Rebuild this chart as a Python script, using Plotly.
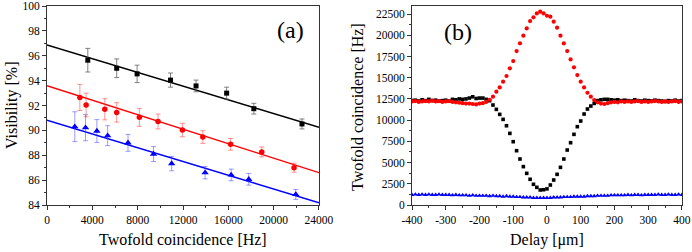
import plotly.graph_objects as go

# ---------------- Panel (a) data ----------------
black_x = [3600, 6150, 7950, 10900, 13150, 15850, 18250, 22500]
black_y = [95.65, 95.0, 94.55, 94.05, 93.58, 93.0, 91.75, 90.52]
black_err = [0.95, 0.75, 0.7, 0.57, 0.47, 0.48, 0.43, 0.4]

red_x = [2900, 3450, 5100, 6150, 8150, 9800, 11950, 13750, 16200, 18950, 21800]
red_y = [92.65, 92.05, 91.7, 91.45, 91.05, 90.72, 90.03, 89.47, 88.88, 88.27, 87.0]
red_err = [1.05, 0.95, 0.85, 0.78, 0.72, 0.6, 0.54, 0.51, 0.47, 0.4, 0.36]

blue_x = [2450, 3400, 4400, 5350, 7150, 9400, 11000, 13950, 16250, 17800, 21950]
blue_y = [90.3, 90.22, 89.95, 89.58, 89.0, 88.1, 87.33, 86.6, 86.42, 86.07, 84.85]
blue_err = [1.2, 1.05, 0.92, 0.8, 0.68, 0.6, 0.58, 0.5, 0.47, 0.47, 0.4]

fit_x = [0, 24000]
black_fit = [96.88, 90.25]
red_fit = [93.6, 86.6]
blue_fit = [90.82, 84.18]

# ---------------- Panel (b) data ----------------
delay = list(range(-400, 401, 10))
black_b = [12300, 12350, 12250, 12400, 12300, 12450, 12300, 12350, 12250, 12300,
           12350, 12250, 12450, 12400, 12500, 12450, 12500, 12600, 12750, 12550,
           12600, 12600, 12450, 12290, 11780, 11270, 10680, 10090, 9340, 8440,
           7460, 6400, 5420, 4520, 3730, 3030, 2440, 2080, 1770, 1800,
           1900, 2356, 2945, 3613, 4437, 5419, 6479, 7343, 8325, 9229,
           9895, 10720, 11310, 11660, 11973, 12300, 12400, 12450, 12450, 12400,
           12350, 12400, 12300, 12350, 12300, 12250, 12400, 12300, 12250, 12350,
           12300, 12250, 12350, 12300, 12250, 12200, 12300, 12250, 12350, 12250,
           12300]
red_b = [12200, 12250, 12150, 12200, 12250, 12200, 12300, 12200, 12250, 12150,
         12200, 12250, 12150, 12100, 12050, 12000, 11950, 11950, 11900, 11850,
         11950, 12000, 12150, 12400, 12760, 13350, 13860, 14530, 15200, 16100,
         16960, 18140, 19050, 19950, 20810, 21670, 22110, 22580, 22780, 22580,
         22300, 22190, 21600, 20890, 19950, 19040, 18140, 17160, 16220, 15310,
         14530, 13860, 13230, 12760, 12370, 12100, 11950, 11900, 12000, 12100,
         12150, 12100, 12200, 12150, 12200, 12150, 12200, 12250, 12150, 12200,
         12150, 12200, 12250, 12200, 12150, 12200, 12150, 12200, 12250, 12150,
         12200]
blue_b = [1200, 1250, 1200, 1250, 1200, 1250, 1200, 1200, 1250, 1200, 1200,
          1200, 1150, 1200, 1150, 1150, 1150, 1100, 1150, 1100, 1100,
          1100, 1100, 1050, 1100, 1050, 1050, 1000, 1050, 1000, 1000,
          950, 950, 900, 900, 900, 850, 850, 850, 850, 850,
          850, 900, 900, 900, 950, 950, 950, 1000, 1000, 1000,
          1000, 1050, 1050, 1050, 1100, 1100, 1100, 1100, 1150, 1150,
          1150, 1150, 1150, 1200, 1150, 1200, 1200, 1150, 1200, 1200,
          1200, 1200, 1250, 1200, 1200, 1250, 1200, 1200, 1250, 1200]

a_xticks = [0, 4000, 8000, 12000, 16000, 20000, 24000]
a_yticks = [84, 86, 88, 90, 92, 94, 96, 98, 100]
b_xticks = [-400, -300, -200, -100, 0, 100, 200, 300, 400]
b_yticks = [0, 2500, 5000, 7500, 10000, 12500, 15000, 17500, 20000, 22500]

FONT = "Liberation Serif, Times New Roman, serif"
fig = go.Figure()

# fit lines
for fy, col in [(black_fit, "black"), (red_fit, "red"), (blue_fit, "blue")]:
    fig.add_trace(go.Scatter(x=fit_x, y=fy, mode="lines", line=dict(color=col, width=1.4),
                             xaxis="x", yaxis="y", showlegend=False, hoverinfo="skip"))

for xs, ys, es, col, ecol, sym, sz in [
    (black_x, black_y, black_err, "black", "rgba(90,90,90,0.75)", "square", 5),
    (red_x, red_y, red_err, "red", "rgba(255,60,60,0.55)", "circle", 5.5),
    (blue_x, blue_y, blue_err, "blue", "rgba(60,60,255,0.5)", "triangle-up", 6.5),
]:
    fig.add_trace(go.Scatter(x=xs, y=ys, mode="markers",
                             marker=dict(color=col, symbol=sym, size=sz, line=dict(width=0)),
                             error_y=dict(type="data", array=es, visible=True, color=ecol,
                                          thickness=1, width=2.5),
                             xaxis="x", yaxis="y", showlegend=False))

# panel b
fig.add_trace(go.Scatter(x=delay, y=black_b, mode="markers",
                         marker=dict(color="black", symbol="square", size=3.6, line=dict(width=0)),
                         xaxis="x2", yaxis="y2", showlegend=False))
fig.add_trace(go.Scatter(x=delay, y=red_b, mode="markers",
                         marker=dict(color="red", symbol="circle", size=4.2, line=dict(width=0)),
                         xaxis="x2", yaxis="y2", showlegend=False))
fig.add_trace(go.Scatter(x=delay, y=blue_b, mode="markers",
                         marker=dict(color="blue", symbol="triangle-up", size=4.5, line=dict(width=0)),
                         xaxis="x2", yaxis="y2", showlegend=False))

ydom = [1 - 205 / 252, 1 - 6 / 252]


def ax(minor_dtick):
    return dict(showgrid=False, zeroline=False, showline=True, linecolor="#333", linewidth=1,
                mirror=True, ticks="outside", ticklen=4, tickcolor="#333", automargin=False,
                tickfont=dict(family=FONT, size=11.5, color="black"),
                minor=dict(ticks="outside", ticklen=2, tickcolor="#333", dtick=minor_dtick))


def ann(text, x, y, size=16, angle=0):
    return dict(text=text, x=x / 692, y=1 - y / 252, xref="paper", yref="paper",
                xanchor="center", yanchor="middle", showarrow=False, textangle=angle,
                font=dict(family=FONT, size=size, color="black"))


fig.update_layout(
    width=692, height=252, margin=dict(l=0, r=0, t=0, b=0, autoexpand=False),
    paper_bgcolor="white", plot_bgcolor="white",
    font=dict(family=FONT, color="black"),
    xaxis=dict(domain=[47 / 692, 319 / 692], range=[0, 24000.5], tickvals=a_xticks,
               ticktext=[str(v) for v in a_xticks], anchor="y", **ax(2000)),
    yaxis=dict(domain=ydom, range=[84, 100.01], tickvals=a_yticks,
               ticktext=[str(v) for v in a_yticks], anchor="x", **ax(1)),
    xaxis2=dict(domain=[412 / 692, 682 / 692], range=[-400, 400.2], tickvals=b_xticks,
                ticktext=[str(v) for v in b_xticks], anchor="y2", **ax(50)),
    yaxis2=dict(domain=ydom, range=[0, 23450], tickvals=b_yticks,
                ticktext=[str(v) for v in b_yticks], anchor="x2", **ax(1250)),
    annotations=[
        ann("(a)", 290, 30, size=24),
        ann("(b)", 458, 32, size=24),
        ann("Visibility [%]", 12, 106, angle=-90),
        ann("Twofold coincidence [Hz]", 183, 239),
        ann("Twofold coincidence [Hz]", 357, 107, angle=-90),
        ann("Delay [μm]", 547, 240),
    ],
)

fig.write_html("out.html", config={"displayModeBar": False, "staticPlot": True},
               post_script="document.body.style.margin='0';document.body.style.overflow='hidden';")
